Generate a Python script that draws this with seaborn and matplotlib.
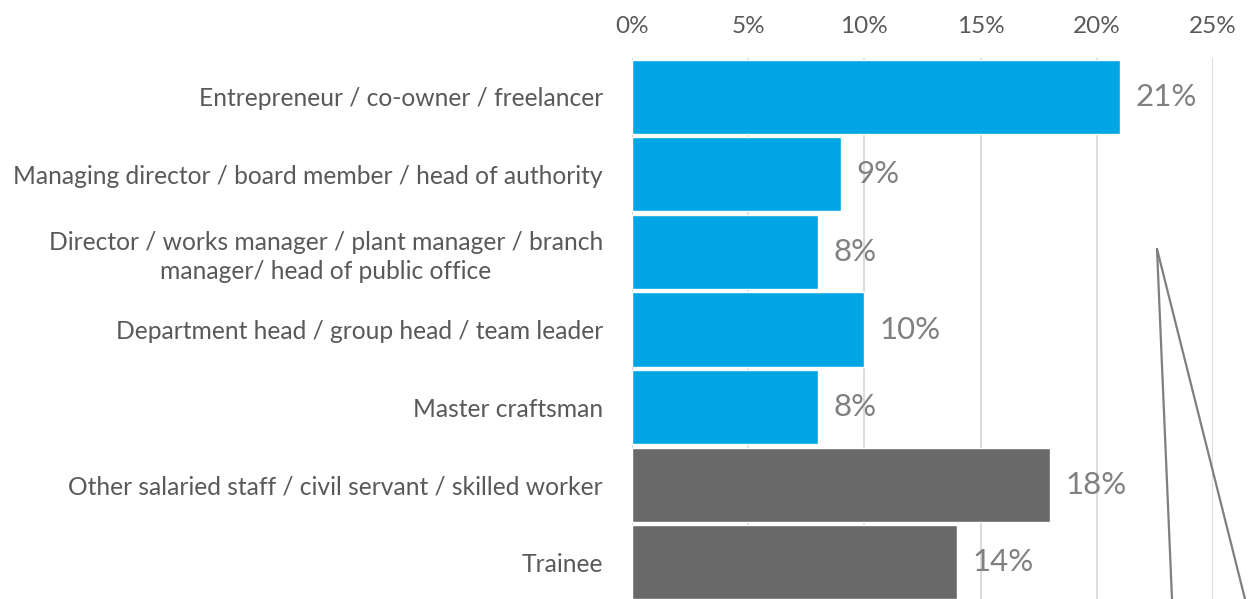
import matplotlib
matplotlib.use("Agg")
import matplotlib.pyplot as plt
import seaborn as sns
import pandas as pd
from matplotlib.lines import Line2D

categories = [
    "Entrepreneur / co-owner / freelancer",
    "Managing director / board member / head of authority",
    "Director / works manager / plant manager / branch\nmanager/ head of public office",
    "Department head / group head / team leader",
    "Master craftsman",
    "Other salaried staff / civil servant / skilled worker",
    "Trainee",
]
shares = [21, 9, 8, 10, 8, 18, 14]
groups = ["manager"] * 5 + ["staff"] * 2
group_colors = {"manager": "#00A6E4", "staff": "#696969"}
ticks = [0, 5, 10, 15, 20, 25]

df = pd.DataFrame({"category": categories, "share": shares, "group": groups})

sns.set_style("white")
plt.rcParams["font.family"] = ["Lato", "DejaVu Sans"]

fig = plt.figure(figsize=(12.48, 5.99), dpi=100)
ax = fig.add_axes([632 / 1248, -2 / 599, (1213 - 632) / 1248, 543 / 599])

sns.barplot(data=df, x="share", y="category", hue="group", palette=group_colors,
            dodge=False, width=0.955, legend=False, saturation=1, ax=ax)

ax.set_xlim(0, 25)
ax.set_ylim(6.5, -0.5)
ax.set_xticks(ticks)
ax.set_xticklabels([f"{t}%" for t in ticks], fontsize=17.5, color="#595959")
ax.xaxis.tick_top()
ax.tick_params(axis="x", length=0, pad=15)
ax.tick_params(axis="y", length=0, pad=21)
for lab in ax.get_yticklabels():
    lab.set_fontsize(17.7)
    lab.set_color("#595959")
    lab.set_multialignment("center")
    lab.set_linespacing(1.3)
ax.set_xlabel("")
ax.set_ylabel("")
ax.grid(axis="x", color="#D9D9D9", linewidth=1.3)
ax.set_axisbelow(True)
for s in ax.spines.values():
    s.set_visible(False)
ax.axvline(0, color="#BFBFBF", linewidth=1.3, zorder=0.5)

for i, v in enumerate(shares):
    ax.annotate(f"{v}%", xy=(v, i), xytext=(11, 0), textcoords="offset points",
                ha="left", va="center", fontsize=22.5, color="#808080")

# callout lines running off the bottom edge
for x_end in (1172, 1245):
    fig.add_artist(Line2D([1157 / 1248, x_end / 1248], [1 - 249 / 599, 0],
                          transform=fig.transFigure, color="#7F7F7F", linewidth=1.6))

fig.savefig("out.png", dpi=100)
